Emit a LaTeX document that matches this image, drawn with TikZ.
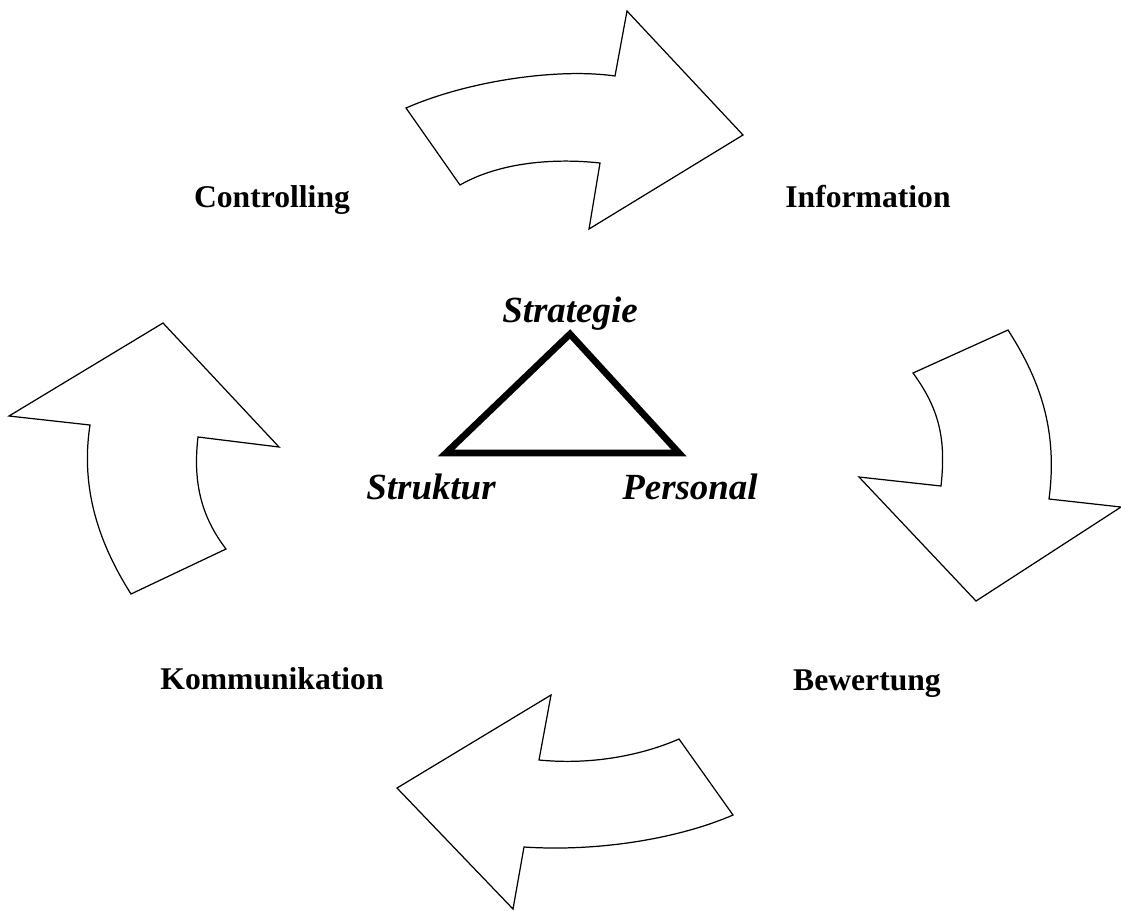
\documentclass[tikz,border=0pt]{standalone}
\usepackage{fontspec}
\setmainfont{Liberation Serif}
\begin{document}
\begin{tikzpicture}[x=0.02cm,y=-0.02cm,
  bigarrow/.style={draw=black,fill=white,line width=0.7pt,line join=miter},
  phase/.style={font=\fontsize{18}{21}\selectfont\bfseries,anchor=base},
  corner/.style={font=\fontsize{21}{24}\selectfont\bfseries\itshape,anchor=base},
  tri/.style={draw=black,line width=3.8pt,line join=miter,line cap=rect}]
\useasboundingbox (0,0) rectangle (1121,910);

% top arrow, pointing right
\draw[bigarrow] (406,108) .. controls (470,80) and (560,68) .. (615,76)
  -- (627,11) -- (743,135) -- (589,229) -- (600,163)
  .. controls (555,158) and (500,162) .. (460,185) -- cycle;

% right arrow, pointing down
\draw[bigarrow] (1008,330) .. controls (1040,380) and (1058,430) .. (1049,499)
  -- (1121,507) -- (976,601) -- (859,477) -- (941,486)
  .. controls (946,440) and (940,410) .. (913,373) -- cycle;

% bottom arrow, pointing left
\draw[bigarrow] (679,739) .. controls (640,756) and (590,765) .. (539,760)
  -- (551,695) -- (397,788) -- (513,909) -- (524,847)
  .. controls (600,852) and (680,838) .. (733,815) -- cycle;

% left arrow, pointing up
\draw[bigarrow] (131,594) .. controls (100,545) and (80,490) .. (90,425)
  -- (9,416) -- (163,323) -- (279,447) -- (198,437)
  .. controls (193,480) and (200,515) .. (226,549) -- cycle;

% phase labels
\node[phase] (controlling) at (272,207) {Controlling};
\node[phase] (information) at (868,207) {Information};
\node[phase] (bewertung) at (867,690) {Bewertung};
\node[phase] (kommunikation) at (272,689) {Kommunikation};

% central triangle
\coordinate (top) at (570,334);
\coordinate (left) at (446,453);
\coordinate (right) at (679,453);
\draw[tri] (top) -- (right) -- (left) -- cycle;

\node[corner] (strategie) at (570,322) {Strategie};
\node[corner] (struktur) at (431,499) {Struktur};
\node[corner] (personal) at (690,499) {Personal};
\end{tikzpicture}
\end{document}
